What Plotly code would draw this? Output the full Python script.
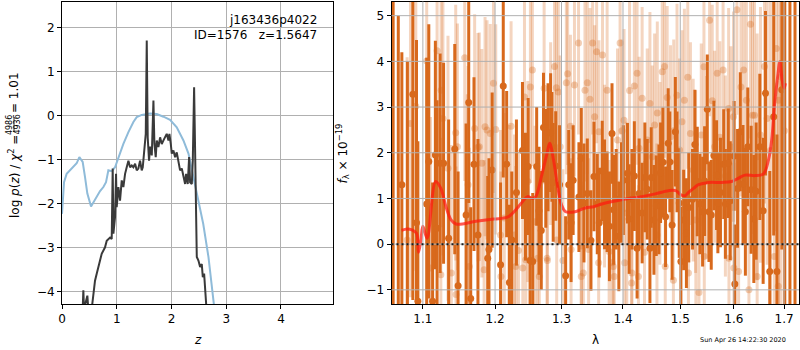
import math
import plotly.graph_objects as go

# ---------------- data: left panel (redshift fit) ----------------
pz_z = [0.33, 0.378, 0.39, 0.402, 0.463, 0.481, 0.542, 0.573, 0.603, 0.634, 0.664, 0.695, 0.725,
        0.786, 0.817, 0.878, 0.908, 0.926, 0.939, 0.969, 0.987, 0.999, 1.03, 1.06, 1.091, 1.121,
        1.152, 1.182, 1.213, 1.243, 1.274, 1.304, 1.335, 1.365, 1.395, 1.426, 1.456, 1.475, 1.50,
        1.52, 1.53, 1.548, 1.566, 1.59, 1.61, 1.64, 1.67, 1.688, 1.712, 1.731, 1.761, 1.792, 1.822,
        1.853, 1.883, 1.913, 1.944, 1.962, 1.987, 2.005, 2.035, 2.066, 2.096, 2.127, 2.157, 2.188,
        2.218, 2.249, 2.267, 2.297, 2.322, 2.34, 2.371, 2.389, 2.413, 2.431, 2.462, 2.492, 2.523,
        2.553, 2.572, 2.596, 2.614, 2.645]
pz_logp = [-4.4, -4.4, -3.97, -4.4, -4.09, -4.4, -4.4, -4.05, -3.75, -3.59, -3.44, -3.29, -3.14,
           -2.99, -2.84, -2.77, -2.80, -1.20, -2.68, -2.30, -1.32, -2.08, -1.62, -1.93, -1.47, -1.62,
           -1.32, -1.17, -1.02, -1.17, -1.13, -1.17, -1.09, -1.24, -1.20, -1.02, -1.24, -1.17, -0.71,
           -0.56, -0.41, 1.71, -0.50, -1.02, -0.70, -0.90, 0.35, -0.64, -0.94, -0.56, -0.71, -0.49, -0.64,
           -0.56, -0.49, -0.41, -0.56, -0.41, -0.64, -0.86, -0.79, -0.94, -0.83, -1.09, -1.24, -1.20,
           -1.39, -1.55, -1.32, -1.55, -0.94, -1.51, -1.55, -1.02, 0.65, -0.86, -3.21, -3.29, -3.44,
           -3.37, -3.67, -3.59, -4.09, -4.5]

chi_z = [0.0, 0.037, 0.085, 0.146, 0.207, 0.268, 0.317, 0.378, 0.42, 0.463, 0.53, 0.603, 0.695,
         0.756, 0.804, 0.847, 0.908, 0.969, 1.03, 1.121, 1.213, 1.304, 1.365, 1.456, 1.609, 1.731,
         1.853, 1.974, 2.096, 2.218, 2.31, 2.40, 2.49, 2.58, 2.675, 2.736, 2.78]
chi_val = [-2.23, -1.51, -1.32, -1.24, -1.15, -1.08, -0.94, -1.05, -1.39, -1.77, -2.06, -1.91, -1.71,
           -1.62, -1.51, -1.24, -1.26, -1.17, -0.94, -0.64, -0.37, -0.14, -0.03, 0.02, 0.05, 0.04,
           -0.02, -0.09, -0.26, -0.56, -0.86, -1.39, -1.85, -2.46, -3.21, -3.82, -4.35]

left_xticks = [0, 1, 2, 3, 4]
left_yticks = [-4, -3, -2, -1, 0, 1, 2]

# ---------------- data: right panel (spectrum) ----------------
dark_wave = [1.0613, 1.0679, 1.0725, 1.0797, 1.0868, 1.0916, 1.0934, 1.1051, 1.1079, 1.1130, 1.1167,
             1.1190, 1.1231, 1.1278, 1.1347, 1.1431, 1.1477, 1.1588, 1.1625, 1.1653, 1.1699, 1.1755,
             1.1894, 1.1912, 1.1958, 1.2080, 1.2119, 1.2169, 1.2209, 1.2244, 1.2313, 1.2403, 1.2448,
             1.2488, 1.2517, 1.2557, 1.2617, 1.2652, 1.2687, 1.2721, 1.2756, 1.2791, 1.2831, 1.2851,
             1.2871, 1.2910, 1.2970, 1.3065, 1.3114, 1.3151, 1.3184, 1.3276, 1.3314, 1.3357, 1.3411,
             1.3470, 1.3519, 1.3573, 1.3605, 1.3654, 1.3692, 1.3735, 1.3773, 1.3816, 1.3843, 1.3886,
             1.3930, 1.3973, 1.4006, 1.4076, 1.4105, 1.4152, 1.4193, 1.4240, 1.4275, 1.4327, 1.4374,
             1.4415, 1.4462, 1.4485, 1.4532, 1.4573, 1.4620, 1.4649, 1.4690, 1.4737, 1.4784, 1.4813,
             1.4854, 1.4912, 1.4942, 1.4982, 1.5012, 1.5062, 1.5112, 1.5155, 1.5224, 1.5267, 1.5311,
             1.5360, 1.5410, 1.5447, 1.5497, 1.5528, 1.5571, 1.5621, 1.5671, 1.5696, 1.5745, 1.5807,
             1.5839, 1.5894, 1.5932, 1.6007, 1.6020, 1.6073, 1.6126, 1.6179, 1.6225, 1.6272, 1.6338,
             1.6391, 1.6437, 1.6510, 1.6576, 1.6623, 1.6709, 1.6788, 1.6854, 1.6954, 1.7014, 1.7120,
             1.7225]
dark_flux = [6.5, -2.5, 1.3, -2.0, 3.28, 0.47, -1.25, 0.88, 1.81, -1.25, 1.95,
             0.35, 1.77, 1.77, 0.13, 2.08, -0.91, 0.64, 3.10, -1.19, 1.75, 0.20,
             -0.31, -0.12, 1.62, -0.45, 3.46, 1.75, -0.84, 0.09, 1.13, 2.05, 1.04,
             1.70, -0.36, -0.38, 1.70, 0.73, 0.30, 2.55, 1.66, 2.12, 2.44, 2.13,
             1.35, 1.71, 1.30, -0.69, 1.30, 0.47, 1.40, 1.03, 1.88, 0.90, 1.11,
             0.08, 1.48, 0.88, 0.47, 1.60, 1.09, 0.93, 0.39, 2.42, 0.75, 0.98,
             0.17, 1.13, 1.40, 1.55, 0.55, 0.98, 1.49, -0.09, 1.11, 0.68, 1.46,
             1.20, -0.09, 1.46, 0.53, 0.84, 0.98, 1.56, 1.79, 0.60, 2.21, 1.80,
             0.42, 2.46, 1.80, 0.90, -0.38, 0.53, 0.24, 0.80, 0.98, 2.18, 1.37,
             0.88, 0.71, 1.38, 2.95, 0.71, 0.64, 1.94, 1.51, 0.90, 1.13, 1.75,
             0.88, 1.77, 0.95, 1.93, -0.87, 1.22, 2.46, 1.31, 0.71, 2.13, 1.19,
             0.55, 1.16, 2.13, 0.73, 3.30, -0.60, 2.79, -0.60, 3.38, -3.0, 7.0,
             -2.5]
dark_err = [8.0, 7.5, 2.9, 6.0, 4.5, 4.0, 3.5, 3.2, 3.0, 2.6, 2.5,
            2.8, 2.4, 2.2, 2.6, 2.3, 2.5, 2.0, 2.2, 2.0, 1.9, 2.1,
            1.8, 2.0, 1.7, 1.8, 2.0, 1.6, 1.7, 1.5, 1.6, 1.5, 1.4,
            1.5, 1.4, 1.5, 1.3, 1.4, 1.3, 1.2, 1.3, 1.4, 1.3, 1.2,
            1.3, 1.2, 1.3, 1.3, 1.2, 1.3, 1.2, 1.2, 1.1, 1.3, 1.2,
            1.1, 1.2, 1.1, 1.2, 1.1, 1.2, 1.1, 1.2, 1.1, 1.2, 1.1,
            1.2, 1.1, 1.2, 1.1, 1.2, 1.1, 1.2, 1.1, 1.2, 1.1, 1.2,
            1.1, 1.2, 1.1, 1.2, 1.1, 1.2, 1.1, 1.2, 1.1, 1.2, 1.1,
            1.2, 1.2, 1.1, 1.2, 1.2, 1.1, 1.2, 1.2, 1.1, 1.2, 1.2,
            1.1, 1.2, 1.2, 1.2, 1.1, 1.2, 1.2, 1.2, 1.1, 1.2, 1.2,
            1.2, 1.2, 1.3, 1.2, 1.3, 1.3, 1.3, 1.3, 1.4, 1.3, 1.4,
            1.4, 1.5, 1.6, 1.6, 1.8, 2.2, 2.6, 3.0, 3.5, 10.0, 10.0,
            10.0]

light_wave = [1.0793, 1.0837, 1.0907, 1.1051, 1.1190, 1.1245, 1.1269, 1.1338, 1.1384, 1.1444, 1.1468,
              1.1569, 1.1606, 1.1616, 1.1708, 1.1755, 1.1810, 1.1856, 1.1884, 1.1931, 1.1977, 1.2010,
              1.2085, 1.2134, 1.2234, 1.2284, 1.2343, 1.2408, 1.2433, 1.2483, 1.2522, 1.2552, 1.2592,
              1.2632, 1.2657, 1.2731, 1.2781, 1.2831, 1.2891, 1.2920, 1.2950, 1.2980, 1.3022, 1.3076,
              1.3097, 1.3141, 1.3205, 1.3270, 1.3314, 1.3346, 1.3373, 1.3411, 1.3454, 1.3497, 1.3530,
              1.3562, 1.3600, 1.3659, 1.3692, 1.3735, 1.3768, 1.3816, 1.3854, 1.3908, 1.3951, 1.3984,
              1.4018, 1.4064, 1.4111, 1.4152, 1.4193, 1.4240, 1.4275, 1.4327, 1.4368, 1.4415, 1.4462,
              1.4503, 1.4544, 1.4591, 1.4637, 1.4678, 1.4719, 1.4766, 1.4825, 1.4883, 1.4942, 1.4988,
              1.5031, 1.5075, 1.5137, 1.5186, 1.5236, 1.5280, 1.5342, 1.5385, 1.5435, 1.5484, 1.5540,
              1.5590, 1.5634, 1.5683, 1.5733, 1.5795, 1.5839, 1.5901, 1.5944, 1.5994, 1.6060, 1.6093,
              1.6139, 1.6192, 1.6245, 1.6325, 1.6364, 1.6404, 1.6457, 1.6523, 1.6603, 1.6656, 1.6722,
              1.6841, 1.6887, 1.6934, 1.7006,
              1.3432, 1.3595, 1.3838, 1.4029, 1.4146, 1.4263, 1.4585, 1.4731, 1.4877, 1.5149,
              1.5285, 1.5441, 1.5907, 1.6002, 1.6295, 1.6457, 1.6801, 1.6881,
              1.2079, 1.2204, 1.2303, 1.2453, 1.2776, 1.2925, 1.3151, 1.3314,
              1.1102, 1.1241, 1.1449, 1.1634, 1.1843, 1.1774]
light_flux = [0.09, 2.64, 3.02, 4.01, 4.23, 3.37, 2.75, 1.66, -0.63, 2.44, 2.13,
              4.08, 0.68, 1.30, 2.53, 2.12, 1.77, 2.57, 2.50, 2.42, 3.52, 2.51,
              -0.71, 0.57, 2.58, 0.20, -0.14, -0.52, 3.22, 1.37, 3.44, 3.81, 0.49,
              -0.31, -0.71, 3.41, -0.36, 2.42, 3.89, 3.42, 3.33, 2.13, -0.36, 3.53,
              3.73, 2.58, 3.48, 4.40, -0.04, -0.63, 3.37, 3.53, 3.17, 4.40, 2.79,
              4.21, 2.46, 4.14, 1.49, 3.37, -0.16, -0.41, -0.71, 2.28, 4.40, 2.48,
              2.71, 0.68, 3.36, -0.63, 3.46, 3.74, 2.10, 3.19, -0.18, 2.28, 3.08,
              1.91, 2.61, 2.87, 1.55, 3.77, 3.89, 3.21, 2.35, 2.48, 3.26, 2.06,
              2.68, 3.15, 3.65, 2.42, 1.62, 1.37, -1.06, 2.39, 3.88, 1.68, 4.90,
              3.14, 2.13, 3.74, 2.34, 3.81, 1.49, 2.97, 2.13, 2.79, 5.13, -0.60,
              3.44, 3.81, 3.15, 4.81, 2.82, 2.82, 1.91, 2.39, 3.89, 2.75, 2.05,
              4.28, 3.15, 3.66, 2.48,
              -0.12, -0.41, -0.49, -0.41, -0.85, -0.71, 0.20, -0.49, -0.79, -0.63,
              0.53, -0.27, -0.31, -0.52, -1.00, -0.71, -0.27, -0.92,
              0.20, 0.31, -0.49, -0.34, -0.31, 0.09, -0.12, -0.71,
              -0.52, -0.67, -1.10, -0.49, -0.56, 2.13]
light_err = [4.0, 3.8, 3.6, 3.4, 3.2, 3.0, 3.0, 2.9, 2.8, 2.8, 2.7,
             2.7, 2.6, 2.6, 2.5, 2.5, 2.5, 2.4, 2.4, 2.4, 2.4, 2.3,
             2.3, 2.3, 2.3, 2.2, 2.2, 2.2, 2.2, 2.2, 2.1, 2.1, 2.1,
             2.1, 2.1, 2.1, 2.1, 2.0, 2.0, 2.0, 2.0, 2.0, 2.0, 2.0,
             2.0, 2.0, 2.0, 2.0, 2.0, 2.0, 2.0, 2.0, 2.0, 2.0, 2.0,
             2.0, 2.0, 2.0, 2.0, 2.0, 2.0, 2.0, 2.0, 2.0, 2.0, 2.0,
             2.0, 2.0, 2.0, 2.0, 2.0, 2.0, 2.0, 2.0, 2.0, 2.0, 2.0,
             2.0, 2.0, 2.0, 2.0, 2.0, 2.0, 2.0, 2.0, 2.0, 2.0, 2.0,
             2.0, 2.0, 2.0, 2.0, 2.0, 2.0, 2.0, 2.0, 2.0, 2.0, 2.1,
             2.1, 2.1, 2.1, 2.1, 2.2, 2.2, 2.2, 2.2, 2.3, 2.3, 2.3,
             2.4, 2.4, 2.5, 2.5, 2.6, 2.6, 2.7, 2.8, 3.0, 3.2, 3.5,
             4.0, 4.5, 5.0, 5.5,
             2.0, 2.0, 2.0, 2.0, 2.0, 2.0, 2.0, 2.0, 2.0, 2.0,
             2.0, 2.0, 2.2, 2.3, 2.5, 2.7, 3.8, 4.5,
             2.3, 2.3, 2.2, 2.2, 2.1, 2.0, 2.0, 2.0,
             3.3, 3.0, 2.8, 2.6, 2.4, 2.5]

model_wave = [1.0722, 1.0793, 1.0855, 1.0916, 1.0943, 1.0975, 1.1000, 1.1056, 1.1171, 1.1241, 1.1310,
              1.1380, 1.1449, 1.1727, 1.1982, 1.2179, 1.2303, 1.2403, 1.2478, 1.2552, 1.2602,
              1.2701, 1.2776, 1.2816, 1.2876, 1.2940, 1.3000, 1.3065, 1.3216, 1.3378, 1.3514,
              1.3649, 1.3973, 1.4321, 1.4556, 1.4790, 1.4918, 1.5012, 1.5087, 1.5149, 1.5242,
              1.5335, 1.5522, 1.5770, 1.5957, 1.6086, 1.6218, 1.6417, 1.6583, 1.6682, 1.6748,
              1.6801, 1.6868, 1.6914, 1.6960, 1.7000, 1.7027]
model_flux = [0.30, 0.33, 0.31, 0.24, -0.18, 0.10, 0.39, 0.13, 1.37, 1.22, 0.82,
              0.53, 0.44, 0.50, 0.55, 0.59, 0.75, 0.93, 1.04, 1.00, 1.04,
              1.55, 1.99, 2.21, 1.84, 1.26, 0.86, 0.71, 0.71, 0.79, 0.82,
              0.88, 0.97, 1.04, 1.10, 1.17, 1.17, 1.08, 1.06, 1.13, 1.22,
              1.30, 1.35, 1.35, 1.37, 1.44, 1.51, 1.50, 1.54, 1.84, 2.28,
              3.01, 3.66, 3.99, 3.59, 3.41, 3.52]

right_xticks = [1.1, 1.2, 1.3, 1.4, 1.5, 1.6, 1.7]
right_xticklabels = ["1.1", "1.2", "1.3", "1.4", "1.5", "1.6", "1.7"]
right_yticks = [-1, 0, 1, 2, 3, 4, 5]

# ---------------- styling / layout helpers ----------------
W, H = 800, 350
FONT = "DejaVu Sans"
DARK = "rgb(216,105,28)"
LIGHT_BAR = "rgba(216,105,28,0.28)"
LIGHT_MK = "rgba(216,105,28,0.32)"
GRID = "#b0b0b0"


def fx(p):
    return p / W


def fy(p):
    return 1 - p / H


fig = go.Figure()

# left panel
fig.add_trace(go.Scatter(x=chi_z, y=chi_val, mode="lines", xaxis="x", yaxis="y",
                         line=dict(color="#8fbbd9", width=2), showlegend=False))
fig.add_trace(go.Scatter(x=pz_z, y=pz_logp, mode="lines", xaxis="x", yaxis="y",
                         line=dict(color="#3a3a3a", width=2), showlegend=False))

# right panel
fig.add_trace(go.Scatter(x=light_wave, y=light_flux, mode="markers", xaxis="x2", yaxis="y2",
                         marker=dict(color=LIGHT_MK, size=7, line=dict(width=0)),
                         error_y=dict(type="data", array=light_err, visible=True,
                                      color=LIGHT_BAR, thickness=3, width=0),
                         showlegend=False))
fig.add_trace(go.Scatter(x=dark_wave, y=dark_flux, mode="markers", xaxis="x2", yaxis="y2",
                         marker=dict(color=DARK, size=7, line=dict(width=0)),
                         error_y=dict(type="data", array=dark_err, visible=True,
                                      color=DARK, thickness=3, width=0),
                         showlegend=False))
fig.add_trace(go.Scatter(x=model_wave, y=model_flux, mode="lines", xaxis="x2", yaxis="y2",
                         line=dict(color="rgba(255,25,15,0.72)", width=3, shape="spline"),
                         showlegend=False))

tickfont = dict(family=FONT, size=12, color="black")
axcommon = dict(showline=True, mirror=True, linecolor="black", linewidth=1,
                ticks="outside", ticklen=4, tickcolor="black", zeroline=False,
                tickfont=tickfont, gridcolor=GRID, gridwidth=1)

ydom = [fy(304), fy(1.5)]
fig.update_layout(
    width=W, height=H,
    margin=dict(l=0, r=0, t=0, b=0, autoexpand=False),
    paper_bgcolor="white", plot_bgcolor="white",
    xaxis=dict(domain=[fx(62), fx(333)], range=[0, 4.95], tickvals=left_xticks,
               anchor="y", showgrid=True, **axcommon),
    yaxis=dict(domain=ydom, range=[-4.28, 2.6], tickvals=left_yticks,
               anchor="x", showgrid=True, **axcommon),
    xaxis2=dict(domain=[fx(391.5), fx(799)], type="log",
                range=[math.log10(1.0592), math.log10(1.7308)],
                tickvals=right_xticks, ticktext=right_xticklabels,
                anchor="y2", showgrid=False, **axcommon),
    yaxis2=dict(domain=ydom, range=[-1.31, 5.31], tickvals=right_yticks,
                anchor="x2", showgrid=False, **axcommon),
)

# right-panel grid lines drawn above the data (as in the reference)
shapes = []
for v in right_xticks:
    shapes.append(dict(type="line", xref="x2", yref="y2 domain", x0=v, x1=v, y0=0, y1=1,
                       line=dict(color=GRID, width=1), layer="above"))
for v in right_yticks:
    shapes.append(dict(type="line", xref="x2 domain", yref="y2", x0=0, x1=1, y0=v, y1=v,
                       line=dict(color=GRID, width=1), layer="above"))
# zero line
shapes.append(dict(type="line", xref="x2 domain", yref="y2", x0=0, x1=1, y0=0, y1=0,
                   line=dict(color="#1a1a1a", width=2, dash="2px,3px"), layer="above"))
# fraction bar of the left y-label
shapes.append(dict(type="line", xref="paper", yref="paper", x0=fx(14), x1=fx(14),
                   y0=fy(117.5), y1=fy(132), line=dict(color="black", width=0.8)))
fig.update_layout(shapes=shapes)

ann = []
lab = dict(family=FONT, size=12, color="black")
ann.append(dict(text="j163436p4022", x=fx(319), y=fy(20), xref="paper", yref="paper",
                xanchor="right", yanchor="middle", showarrow=False, font=lab))
ann.append(dict(text="ID=1576\u00a0\u00a0\u00a0z=1.5647", x=fx(319), y=fy(35), xref="paper",
                yref="paper", xanchor="right", yanchor="middle", showarrow=False, font=lab))
ann.append(dict(text="<i>z</i>", x=fx(197.5), y=fy(340), xref="paper", yref="paper",
                xanchor="center", yanchor="middle", showarrow=False, font=lab))
ann.append(dict(text="λ", x=fx(595), y=fy(340), xref="paper", yref="paper",
                xanchor="center", yanchor="middle", showarrow=False, font=lab))
# left y label pieces (rotated)
ann.append(dict(text="log <i>p</i>(<i>z</i>) / <i>χ</i><sup>2</sup> =", x=fx(14), y=fy(133.5),
                xref="paper", yref="paper", xanchor="center", yanchor="top", textangle=-90,
                showarrow=False, font=lab))
ann.append(dict(text="4986", x=fx(10.3), y=fy(124.8), xref="paper", yref="paper",
                xanchor="center", yanchor="middle", textangle=-90, showarrow=False,
                font=dict(family=FONT, size=8, color="black")))
ann.append(dict(text="4936", x=fx(17.8), y=fy(124.8), xref="paper", yref="paper",
                xanchor="center", yanchor="middle", textangle=-90, showarrow=False,
                font=dict(family=FONT, size=8, color="black")))
ann.append(dict(text="= 1.01", x=fx(14), y=fy(115.5), xref="paper", yref="paper",
                xanchor="center", yanchor="bottom", textangle=-90, showarrow=False, font=lab))
# right y label
ann.append(dict(text="<i>f</i><sub>λ</sub> × 10<sup>−19</sup>", x=fx(342), y=fy(153.5),
                xref="paper", yref="paper", xanchor="center", yanchor="middle", textangle=-90,
                showarrow=False, font=lab))
# timestamp
ann.append(dict(text="Sun Apr 26 14:22:30 2020", x=fx(743), y=fy(339.5), xref="paper",
                yref="paper", xanchor="center", yanchor="middle", showarrow=False,
                font=dict(family=FONT, size=6.5, color="black")))
fig.update_layout(annotations=ann)

fig.write_html("out.html", config={"displayModeBar": False},
               post_script="document.body.style.margin='0';document.body.style.padding='0';")
